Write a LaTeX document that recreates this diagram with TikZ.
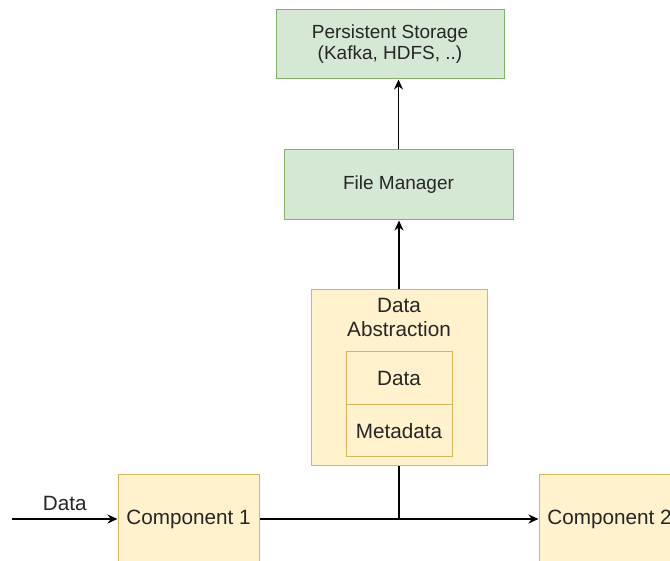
\documentclass[tikz,border=0pt]{standalone}
\usepackage{fontspec}
\setmainfont{Liberation Sans}
\usepackage{tikz}
\usetikzlibrary{arrows.meta,positioning}

\begin{document}
\begin{tikzpicture}[x=1pt,y=-1pt]
    % Colors and styles
    \definecolor{greenfill}{HTML}{D5E8D4}
    \definecolor{greenline}{HTML}{82B366}
    \definecolor{yellowfill}{HTML}{FFF2CC}
    \definecolor{yellowline}{HTML}{D6B656}
    \tikzset{
        greenbox/.style={draw=greenline, fill=greenfill, line width=1pt, inner sep=0pt,
            align=center, font=\fontsize{19}{21}\selectfont, text=black!85},
        yellowbox/.style={draw=yellowline, fill=yellowfill, line width=1pt, inner sep=0pt,
            align=center, font=\fontsize{20.7}{24}\selectfont, text=black!85},
        link/.style={line width=1.8pt, -{Stealth[length=10pt,width=9pt]}},
        plainlink/.style={line width=1.8pt}
    }

    % Fix the page size
    \useasboundingbox (0,0) rectangle (670,561);
    \clip (0,0) rectangle (670,561);

    % Storage side
    \node[greenbox, minimum width=228, minimum height=69] (storage) at (390,44.5)
        {Persistent Storage\\(Kafka, HDFS, ..)};
    \node[greenbox, minimum width=229, minimum height=70] (filemgr) at (398.5,185)
        {File Manager};

    % Data abstraction with its two parts
    \node[yellowbox, minimum width=176, minimum height=176] (abstraction) at (399,378) {};
    \node[font=\fontsize{20.7}{24}\selectfont, text=black!85, align=center] (abstractlabel)
        at (399,317) {Data\\Abstraction};
    \node[yellowbox, minimum width=106, minimum height=53] (datapart) at (399,378.5) {Data};
    \node[yellowbox, minimum width=106, minimum height=52] (metapart) at (399,431) {Metadata};

    % Components
    \node[yellowbox, minimum width=141, minimum height=88] (comp1) at (188.5,519) {Component 1};
    \node[yellowbox, minimum width=141, minimum height=88] (comp2) at (609.5,519) {Component 2};

    % Connectors
    \coordinate (datain) at (12,519);
    \coordinate (tap) at (abstraction.south |- comp1.east);
    \draw[link] (datain) -- (comp1.west) node[midway, above=4pt, font=\fontsize{20.7}{24}\selectfont, text=black!85] (datalabel) {Data};
    \draw[link] (comp1.east) -- (comp2.west);
    \draw[plainlink] (abstraction.south) -- (tap);
    \draw[link] (abstraction.north) -- (filemgr.south -| abstraction.north);
    \draw[link] (filemgr.north) -- (storage.south -| filemgr.north);

\end{tikzpicture}
\end{document}
